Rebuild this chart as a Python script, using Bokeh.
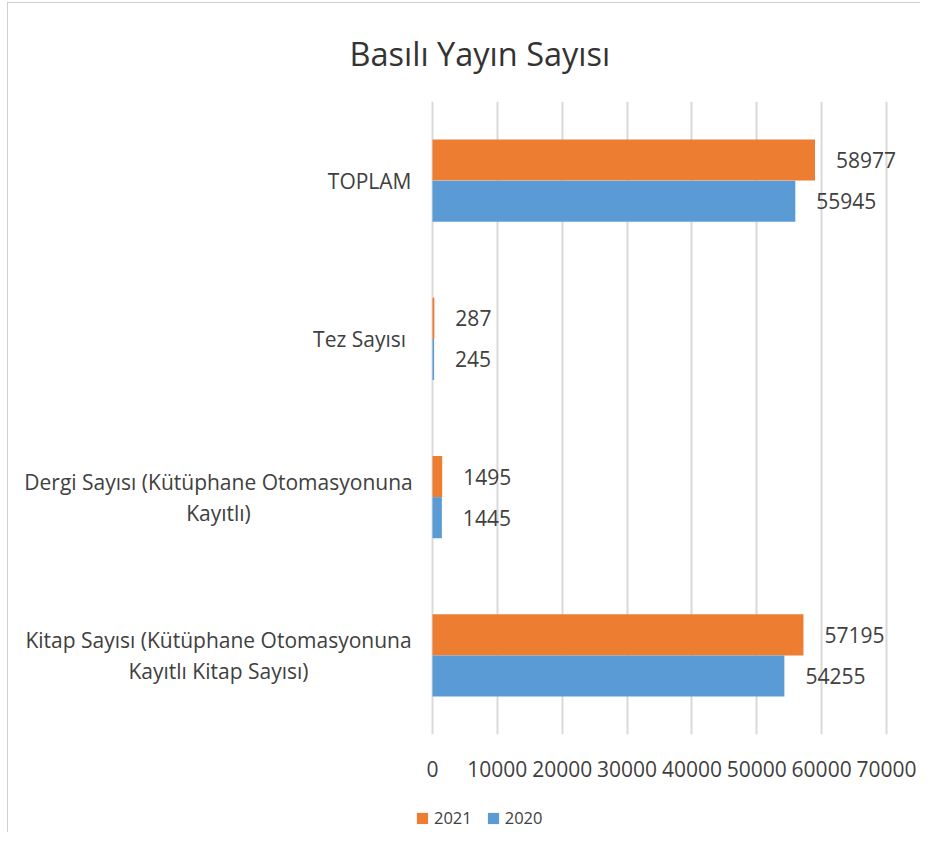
from bokeh.plotting import figure
from bokeh.layouts import column
from bokeh.models import FactorRange, Range1d, FixedTicker, Legend, LegendItem, ColumnDataSource
from bokeh.transform import dodge
from bokeh.core.properties import value
from bokeh.embed import file_html
from bokeh.resources import INLINE

categories = [
    "Kitap Sayısı (Kütüphane Otomasyonuna\nKayıtlı Kitap Sayısı)",
    "Dergi Sayısı (Kütüphane Otomasyonuna\nKayıtlı)",
    "Tez Sayısı ",
    "TOPLAM",
]
values_2021 = [57195, 1495, 287, 58977]
values_2020 = [54255, 1445, 245, 55945]
x_ticks = [0, 10000, 20000, 30000, 40000, 50000, 60000, 70000]
series_names = ["2021", "2020"]

FONT = "Open Sans"
TXT = "#404040"
ORANGE = "#ED7D31"
BLUE = "#5B9BD5"

# geometry (pixels, relative to each canvas)
W = 912
H_MAIN, H_LEG = 786, 43
FRAME_LEFT = 12          # frame starts here
ZERO_X = 424             # where value 0 sits
FRAME_RIGHT = 912
PX_PER_UNIT = 454 / 70000.0

src = ColumnDataSource(dict(
    cat=categories,
    v2021=values_2021,
    v2020=values_2020,
    l2021=[str(v) for v in values_2021],
    l2020=[str(v) for v in values_2020],
))

p = figure(
    width=W, height=H_MAIN,
    y_range=FactorRange(factors=categories, range_padding=0),
    x_range=Range1d(-(ZERO_X - FRAME_LEFT) / PX_PER_UNIT, (FRAME_RIGHT - ZERO_X) / PX_PER_UNIT),
    output_backend="svg", toolbar_location=None,
    min_border_left=FRAME_LEFT, min_border_right=0, min_border_top=98, min_border_bottom=55,
)
p.outline_line_color = None
p.background_fill_color = "white"
p.border_fill_color = "white"

p.title.text = "Basılı Yayın Sayısı"
p.title.text_font = FONT
p.title.text_font_size = "32.5px"
p.title.text_font_style = "normal"
p.title.text_color = "#333333"
p.title.align = "left"
p.title.offset = 341 - FRAME_LEFT
p.title.standoff = 51

r1 = p.hbar(y=dodge("cat", 0.13, range=p.y_range), right="v2021", left=0, height=0.26,
            source=src, color=ORANGE, line_color=None)
r2 = p.hbar(y=dodge("cat", -0.13, range=p.y_range), right="v2020", left=0, height=0.26,
            source=src, color=BLUE, line_color=None)

p.text(x="v2021", y=dodge("cat", 0.13, range=p.y_range), text="l2021", source=src,
       x_offset=21, text_align="left", text_baseline="middle",
       text_font=value(FONT), text_font_size="21px", text_color=TXT)
p.text(x="v2020", y=dodge("cat", -0.13, range=p.y_range), text="l2020", source=src,
       x_offset=21, text_align="left", text_baseline="middle",
       text_font=value(FONT), text_font_size="21px", text_color=TXT)

# category labels: single-line ones right-aligned next to the axis,
# two-line ones centred as a block
multi = [c for c in categories if "\n" in c]
single = [c for c in categories if "\n" not in c]
p.text(x=0, y=single, text=single, x_offset=-21, text_align="right", text_baseline="middle",
       text_font=value(FONT), text_font_size="21px", text_color=TXT)
p.text(x=0, y=multi, text=multi, x_offset=-214, text_align="center", text_baseline="middle",
       text_line_height=1.1,
       text_font=value(FONT), text_font_size="21px", text_color=TXT)

p.yaxis.visible = False

p.xaxis.ticker = FixedTicker(ticks=x_ticks)
p.xaxis.axis_line_color = None
p.xaxis.major_tick_line_color = None
p.xaxis.minor_tick_line_color = None
p.xaxis.major_label_text_font = FONT
p.xaxis.major_label_text_font_size = "21px"
p.xaxis.major_label_text_color = TXT
p.xaxis.major_label_standoff = 20

p.xgrid.grid_line_color = "#d9d9d9"
p.xgrid.grid_line_width = 2
p.ygrid.grid_line_color = None

# legend strip under the chart (its bars lie outside its visible range; only the legend shows)
lg = figure(width=W, height=H_LEG, x_range=Range1d(-2, -1),
            y_range=FactorRange(factors=categories),
            output_backend="svg", toolbar_location=None,
            min_border_left=0, min_border_right=0, min_border_top=0, min_border_bottom=0)
lg.axis.visible = False
lg.grid.visible = False
lg.outline_line_color = None
lg.background_fill_color = "white"
lg.border_fill_color = "white"
d1 = lg.hbar(y="cat", right="v2021", left=0, height=0.3, source=src, color=ORANGE, line_color=None)
d2 = lg.hbar(y="cat", right="v2020", left=0, height=0.3, source=src, color=BLUE, line_color=None)
legend = Legend(
    items=[LegendItem(label=series_names[0], renderers=[d1]),
           LegendItem(label=series_names[1], renderers=[d2])],
    orientation="horizontal", location=(395 - FRAME_LEFT + 12, 3),
    glyph_width=14, glyph_height=14, label_standoff=5, spacing=14,
    padding=0, margin=0, border_line_color=None, background_fill_alpha=0,
    label_text_font=FONT, label_text_font_size="16.5px", label_text_color=TXT,
)
lg.add_layout(legend, "center")

layout = column(p, lg, spacing=0,
                styles={"border-left": "1px solid #d0d0d0", "border-top": "1px solid #d0d0d0",
                        "margin-left": "7px", "margin-top": "2px"})
open("out.html", "w").write(file_html(layout, INLINE))
